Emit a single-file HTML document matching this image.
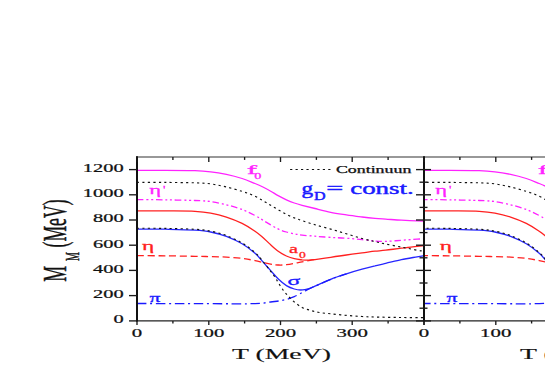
<!DOCTYPE html>
<html><head><meta charset="utf-8"><title>fig</title>
<style>
html,body{margin:0;padding:0;background:#fff;}
body{width:545px;height:382px;overflow:hidden;}
svg{display:block;font-family:"Liberation Serif",serif;}
</style></head><body>
<svg width="545" height="382" viewBox="0 0 545 382">
<rect width="545" height="382" fill="#fff"/>
<defs>
<g id="curves" fill="none">
<path d="M137.0,170.4C141.7,170.4 155.3,170.4 165.0,170.4C174.7,170.4 187.4,170.5 195.0,170.7C202.6,170.9 205.5,171.2 210.7,171.8C215.9,172.4 221.2,173.3 226.4,174.4C231.6,175.5 237.3,177.0 242.1,178.5C246.9,180.0 251.5,182.1 255.0,183.5C258.5,184.9 260.3,185.7 262.9,187.0C265.5,188.3 268.1,189.7 270.7,191.2C273.3,192.7 276.0,194.5 278.6,195.9C281.2,197.3 283.8,198.6 286.4,199.8C289.0,201.0 291.7,202.1 294.3,203.0C296.9,203.9 298.7,204.4 302.1,205.3C305.6,206.2 310.2,207.3 315.0,208.5C319.8,209.7 325.5,211.2 330.7,212.3C335.9,213.4 341.2,214.1 346.4,214.9C351.6,215.7 357.3,216.4 362.1,217.0C366.9,217.6 371.1,218.0 375.0,218.3C378.9,218.7 381.3,218.8 385.7,219.1C390.1,219.4 396.2,219.9 401.4,220.2C406.6,220.5 413.3,220.8 417.1,220.9C420.9,221.0 423.0,221.0 424.2,221.0" stroke="#ff22ff" stroke-width="1.3"/>
<path d="M137.0,199.6C141.7,199.6 155.3,199.7 165.0,199.8C174.7,200.0 187.4,200.2 195.0,200.5C202.6,200.8 205.5,200.9 210.7,201.6C215.9,202.3 221.2,203.5 226.4,204.8C231.6,206.1 237.3,207.7 242.1,209.5C246.9,211.3 251.5,213.7 255.0,215.5C258.5,217.3 260.3,218.6 262.9,220.2C265.5,221.8 268.1,223.4 270.7,224.9C273.3,226.4 276.0,228.0 278.6,229.2C281.2,230.4 283.8,231.2 286.4,232.0C289.0,232.8 291.7,233.4 294.3,233.9C296.9,234.4 298.7,234.7 302.1,235.1C305.6,235.5 310.2,235.8 315.0,236.2C319.8,236.6 325.5,237.1 330.7,237.4C335.9,237.7 341.2,237.8 346.4,238.2C351.6,238.6 357.3,239.2 362.1,239.7C366.9,240.2 371.1,240.7 375.0,241.0C378.9,241.3 381.3,241.5 385.7,241.4C390.1,241.3 396.2,240.7 401.4,240.3C406.6,239.9 413.3,239.4 417.1,239.2C420.9,238.9 423.0,238.9 424.2,238.8" stroke="#ff22ff" stroke-width="1.3" stroke-dasharray="6.5 3 2 2.7 2 2.7"/>
<path d="M137.0,210.8C141.7,210.8 155.3,210.8 165.0,210.9C174.7,211.0 187.4,210.9 195.0,211.3C202.6,211.7 205.5,212.1 210.7,213.1C215.9,214.1 221.2,215.4 226.4,217.1C231.6,218.8 237.3,221.1 242.1,223.4C246.9,225.8 251.5,228.8 255.0,231.2C258.5,233.5 260.3,235.2 262.9,237.5C265.5,239.8 268.1,242.5 270.7,244.8C273.3,247.2 276.0,249.7 278.6,251.6C281.2,253.5 283.8,254.8 286.4,256.0C289.0,257.2 291.7,258.1 294.3,258.7C296.9,259.3 299.8,259.6 302.1,259.9C304.5,260.1 306.2,260.2 308.4,260.2C310.5,260.1 311.3,260.1 315.0,259.6C318.7,259.1 325.5,258.1 330.7,257.3C335.9,256.5 341.2,255.7 346.4,255.0C351.6,254.3 357.3,253.5 362.1,252.9C366.9,252.3 371.1,251.6 375.0,251.2C378.9,250.8 381.3,250.7 385.7,250.2C390.1,249.7 396.2,248.8 401.4,248.2C406.6,247.5 413.3,246.8 417.1,246.3C420.9,245.9 423.0,245.6 424.2,245.5" stroke="#ff2020" stroke-width="1.3"/>
<path d="M137.0,255.7C141.7,255.7 155.3,255.7 165.0,255.8C174.7,255.9 187.4,256.2 195.0,256.3C202.6,256.4 205.5,256.5 210.7,256.6C215.9,256.7 221.2,256.8 226.4,257.1C231.6,257.4 237.3,257.8 242.1,258.4C246.9,259.0 250.2,259.6 255.0,260.6C259.8,261.6 266.8,263.5 270.7,264.2C274.6,264.9 276.0,264.9 278.6,265.0C281.2,265.1 283.8,265.0 286.4,264.7C289.0,264.4 291.7,263.9 294.3,263.4C296.9,262.9 299.5,262.3 302.1,261.8C304.7,261.3 307.7,260.7 310.0,260.3C312.3,259.9 315.0,259.6 316.0,259.5" stroke="#ff2020" stroke-width="1.3" stroke-dasharray="7 3.7"/>
<path d="M137.0,229.1C141.7,229.1 155.3,229.0 165.0,229.2C174.7,229.4 187.4,229.6 195.0,230.1C202.6,230.6 205.5,230.9 210.7,232.0C215.9,233.1 221.2,234.4 226.4,236.4C231.6,238.4 237.3,241.0 242.1,243.8C246.9,246.6 251.5,250.2 255.0,253.2C258.5,256.2 260.3,259.0 262.9,261.9C265.5,264.8 268.1,267.7 270.7,270.6C273.3,273.5 276.0,276.8 278.6,279.3C281.2,281.8 283.8,284.0 286.4,285.6C289.0,287.2 291.9,288.3 294.3,289.0C296.7,289.7 298.4,290.0 300.5,290.0C302.6,290.0 305.1,289.5 306.8,289.2C308.6,288.9 309.6,288.5 311.0,288.0C312.4,287.5 311.7,287.6 315.0,286.2C318.3,284.8 325.5,281.4 330.7,279.3C335.9,277.2 341.2,275.5 346.4,273.8C351.6,272.1 357.3,270.4 362.1,269.1C366.9,267.8 371.1,266.8 375.0,265.9C378.9,264.9 381.3,264.4 385.7,263.4C390.1,262.4 396.2,260.8 401.4,259.7C406.6,258.6 413.3,257.5 417.1,256.8C420.9,256.1 423.0,255.8 424.2,255.6" stroke="#2626ff" stroke-width="1.3"/>
<path d="M137.0,303.5C146.7,303.5 177.8,303.6 195.0,303.6C212.2,303.7 230.0,303.8 240.0,303.8C250.0,303.8 251.2,303.7 255.0,303.6C258.8,303.5 260.3,303.4 262.9,303.1C265.5,302.8 268.1,302.4 270.7,302.0C273.3,301.6 276.0,301.4 278.6,301.0C281.2,300.6 283.8,300.1 286.4,299.4C289.0,298.7 291.7,297.7 294.3,296.6C296.9,295.5 299.8,293.8 302.1,292.6C304.5,291.4 306.2,290.3 308.4,289.2C310.5,288.1 311.3,287.8 315.0,286.2C318.7,284.6 325.5,281.4 330.7,279.3C335.9,277.2 343.8,274.7 346.4,273.8" stroke="#1a1aff" stroke-width="1.3" stroke-dasharray="9.5 3.7 2 3.7"/>
<path d="M137.0,182.3C141.7,182.3 155.3,182.3 165.0,182.4C174.7,182.5 187.4,182.6 195.0,182.8C202.6,183.1 205.5,183.2 210.7,183.9C215.9,184.6 221.2,185.8 226.4,187.0C231.6,188.2 237.7,190.0 242.1,191.4C246.5,192.8 249.6,193.8 253.1,195.3C256.6,196.8 260.0,198.9 262.9,200.6C265.8,202.3 268.1,203.7 270.7,205.3C273.3,206.9 276.0,208.5 278.6,210.0C281.2,211.5 283.8,213.0 286.4,214.3C289.0,215.6 291.7,216.9 294.3,217.9C296.9,218.9 298.7,219.4 302.1,220.6C305.6,221.8 310.2,223.4 315.0,224.8C319.8,226.2 325.5,227.6 330.7,229.1C335.9,230.6 341.2,232.2 346.4,233.8C351.6,235.4 357.3,237.2 362.1,238.5C366.9,239.8 371.1,240.7 375.0,241.6C378.9,242.5 381.3,243.1 385.7,244.0C390.1,244.9 396.2,246.1 401.4,247.1C406.6,248.1 413.3,249.5 417.1,250.2C420.9,250.9 423.0,251.0 424.2,251.2" stroke="#111" stroke-width="1.15" stroke-dasharray="2.2 3.25"/>
<path d="M137.0,228.3C141.7,228.3 155.3,228.2 165.0,228.4C174.7,228.6 187.4,228.8 195.0,229.3C202.6,229.8 205.5,230.1 210.7,231.2C215.9,232.2 221.2,233.6 226.4,235.6C231.6,237.6 237.3,240.2 242.1,243.0C246.9,245.8 251.5,249.4 255.0,252.5C258.5,255.6 260.3,258.2 262.9,261.4C265.5,264.5 268.6,268.7 270.7,271.4C272.8,274.1 274.1,275.7 275.4,277.7C276.7,279.7 277.3,281.1 278.6,283.2C279.9,285.3 281.7,288.2 283.3,290.3C284.9,292.4 286.2,293.9 288.0,295.8C289.8,297.8 291.9,300.1 294.3,302.0C296.7,303.9 299.5,306.1 302.1,307.5C304.7,308.9 307.3,309.4 310.0,310.2C312.7,311.0 314.7,311.7 318.1,312.3C321.6,312.9 326.0,313.3 330.7,313.8C335.4,314.3 341.2,314.9 346.4,315.4C351.6,315.8 357.3,316.2 362.1,316.5C366.9,316.8 368.7,316.8 375.0,317.0C381.3,317.2 391.8,317.4 400.0,317.5C408.2,317.6 420.2,317.7 424.2,317.7" stroke="#111" stroke-width="1.15" stroke-dasharray="2.2 3.25"/>
</g>
<clipPath id="c1"><rect x="137" y="150" width="287" height="180"/></clipPath>
<clipPath id="c2"><rect x="139.8" y="150" width="200" height="180"/></clipPath>
</defs>
<use href="#curves" clip-path="url(#c1)"/>
<use href="#curves" x="284.2" clip-path="url(#c2)"/>
<path d="M290.1,169.5H331.5" stroke="#111" stroke-width="1.15" stroke-dasharray="2.2 3.25" fill="none"/>
<g stroke="#111" fill="none">
<path d="M136,157H545" stroke-width="1.15" stroke="#333"/>
<path d="M136,320.85H545" stroke-width="1.35" stroke="#222"/>
<path d="M137,156.3V321.5M424,156.3V321.5" stroke-width="2"/>
</g>
<g stroke="#1a1a1a" stroke-width="1.35">
<line x1="129.0" x2="137.0" y1="320.9" y2="320.9"/>
<line x1="424.0" x2="431.0" y1="320.9" y2="320.9"/>
<line x1="424.0" x2="427.5" y1="308.2" y2="308.2"/>
<line x1="129.0" x2="137.0" y1="295.6" y2="295.6"/>
<line x1="424.0" x2="431.0" y1="295.6" y2="295.6"/>
<line x1="424.0" x2="427.5" y1="283.0" y2="283.0"/>
<line x1="129.0" x2="137.0" y1="270.4" y2="270.4"/>
<line x1="424.0" x2="431.0" y1="270.4" y2="270.4"/>
<line x1="424.0" x2="427.5" y1="257.8" y2="257.8"/>
<line x1="129.0" x2="137.0" y1="245.2" y2="245.2"/>
<line x1="424.0" x2="431.0" y1="245.2" y2="245.2"/>
<line x1="424.0" x2="427.5" y1="232.6" y2="232.6"/>
<line x1="129.0" x2="137.0" y1="220.0" y2="220.0"/>
<line x1="424.0" x2="431.0" y1="220.0" y2="220.0"/>
<line x1="424.0" x2="427.5" y1="207.4" y2="207.4"/>
<line x1="129.0" x2="137.0" y1="194.8" y2="194.8"/>
<line x1="424.0" x2="431.0" y1="194.8" y2="194.8"/>
<line x1="424.0" x2="427.5" y1="182.2" y2="182.2"/>
<line x1="129.0" x2="137.0" y1="169.6" y2="169.6"/>
<line x1="424.0" x2="431.0" y1="169.6" y2="169.6"/>
<line x1="137.0" x2="137.0" y1="157.0" y2="162.0"/>
<line x1="137.0" x2="137.0" y1="320.9" y2="325.1"/>
<line x1="172.9" x2="172.9" y1="157.0" y2="159.9"/>
<line x1="172.9" x2="172.9" y1="320.9" y2="323.5"/>
<line x1="208.8" x2="208.8" y1="157.0" y2="162.0"/>
<line x1="208.8" x2="208.8" y1="320.9" y2="325.1"/>
<line x1="244.6" x2="244.6" y1="157.0" y2="159.9"/>
<line x1="244.6" x2="244.6" y1="320.9" y2="323.5"/>
<line x1="280.5" x2="280.5" y1="157.0" y2="162.0"/>
<line x1="280.5" x2="280.5" y1="320.9" y2="325.1"/>
<line x1="316.4" x2="316.4" y1="157.0" y2="159.9"/>
<line x1="316.4" x2="316.4" y1="320.9" y2="323.5"/>
<line x1="352.2" x2="352.2" y1="157.0" y2="162.0"/>
<line x1="352.2" x2="352.2" y1="320.9" y2="325.1"/>
<line x1="388.1" x2="388.1" y1="157.0" y2="159.9"/>
<line x1="388.1" x2="388.1" y1="320.9" y2="323.5"/>
<line x1="424.0" x2="424.0" y1="157.0" y2="162.0"/>
<line x1="424.0" x2="424.0" y1="320.9" y2="325.1"/>
<line x1="416.0" x2="424.0" y1="320.9" y2="320.9"/>
<line x1="419.5" x2="424.0" y1="308.2" y2="308.2"/>
<line x1="416.0" x2="424.0" y1="295.6" y2="295.6"/>
<line x1="419.5" x2="424.0" y1="283.0" y2="283.0"/>
<line x1="416.0" x2="424.0" y1="270.4" y2="270.4"/>
<line x1="419.5" x2="424.0" y1="257.8" y2="257.8"/>
<line x1="416.0" x2="424.0" y1="245.2" y2="245.2"/>
<line x1="419.5" x2="424.0" y1="232.6" y2="232.6"/>
<line x1="416.0" x2="424.0" y1="220.0" y2="220.0"/>
<line x1="419.5" x2="424.0" y1="207.4" y2="207.4"/>
<line x1="416.0" x2="424.0" y1="194.8" y2="194.8"/>
<line x1="419.5" x2="424.0" y1="182.2" y2="182.2"/>
<line x1="416.0" x2="424.0" y1="169.6" y2="169.6"/>
<line x1="424.0" x2="424.0" y1="157.0" y2="162.0"/>
<line x1="424.0" x2="424.0" y1="320.9" y2="325.1"/>
<line x1="459.9" x2="459.9" y1="157.0" y2="159.9"/>
<line x1="459.9" x2="459.9" y1="320.9" y2="323.5"/>
<line x1="495.8" x2="495.8" y1="157.0" y2="162.0"/>
<line x1="495.8" x2="495.8" y1="320.9" y2="325.1"/>
<line x1="531.6" x2="531.6" y1="157.0" y2="159.9"/>
<line x1="531.6" x2="531.6" y1="320.9" y2="323.5"/>
<line x1="567.5" x2="567.5" y1="157.0" y2="162.0"/>
<line x1="567.5" x2="567.5" y1="320.9" y2="325.1"/>
<line x1="603.4" x2="603.4" y1="157.0" y2="159.9"/>
<line x1="603.4" x2="603.4" y1="320.9" y2="323.5"/>
<line x1="639.2" x2="639.2" y1="157.0" y2="162.0"/>
<line x1="639.2" x2="639.2" y1="320.9" y2="325.1"/>
<line x1="675.1" x2="675.1" y1="157.0" y2="159.9"/>
<line x1="675.1" x2="675.1" y1="320.9" y2="323.5"/>
<line x1="711.0" x2="711.0" y1="157.0" y2="162.0"/>
<line x1="711.0" x2="711.0" y1="320.9" y2="325.1"/>
</g>
<g stroke="#111" stroke-width="0.22">
<text x="113.4" y="323.2" font-size="11.5" textLength="10.2" lengthAdjust="spacingAndGlyphs" text-anchor="start" fill="#111" font-weight="normal" >0</text>
<text x="93.0" y="298.0" font-size="11.5" textLength="30.6" lengthAdjust="spacingAndGlyphs" text-anchor="start" fill="#111" font-weight="normal" >200</text>
<text x="93.0" y="272.8" font-size="11.5" textLength="30.6" lengthAdjust="spacingAndGlyphs" text-anchor="start" fill="#111" font-weight="normal" >400</text>
<text x="93.0" y="247.6" font-size="11.5" textLength="30.6" lengthAdjust="spacingAndGlyphs" text-anchor="start" fill="#111" font-weight="normal" >600</text>
<text x="93.0" y="222.4" font-size="11.5" textLength="30.6" lengthAdjust="spacingAndGlyphs" text-anchor="start" fill="#111" font-weight="normal" >800</text>
<text x="82.8" y="197.2" font-size="11.5" textLength="40.8" lengthAdjust="spacingAndGlyphs" text-anchor="start" fill="#111" font-weight="normal" >1000</text>
<text x="82.8" y="172.0" font-size="11.5" textLength="40.8" lengthAdjust="spacingAndGlyphs" text-anchor="start" fill="#111" font-weight="normal" >1200</text>
<text x="131.8" y="336.5" font-size="11.5" textLength="10.4" lengthAdjust="spacingAndGlyphs" text-anchor="start" fill="#111" font-weight="normal" >0</text>
<text x="193.2" y="336.5" font-size="11.5" textLength="31.2" lengthAdjust="spacingAndGlyphs" text-anchor="start" fill="#111" font-weight="normal" >100</text>
<text x="264.9" y="336.5" font-size="11.5" textLength="31.2" lengthAdjust="spacingAndGlyphs" text-anchor="start" fill="#111" font-weight="normal" >200</text>
<text x="336.6" y="336.5" font-size="11.5" textLength="31.2" lengthAdjust="spacingAndGlyphs" text-anchor="start" fill="#111" font-weight="normal" >300</text>
<text x="418.8" y="336.5" font-size="11.5" textLength="10.4" lengthAdjust="spacingAndGlyphs" text-anchor="start" fill="#111" font-weight="normal" >0</text>
<text x="480.1" y="336.5" font-size="11.5" textLength="31.2" lengthAdjust="spacingAndGlyphs" text-anchor="start" fill="#111" font-weight="normal" >100</text>
<text x="551.9" y="336.5" font-size="11.5" textLength="31.2" lengthAdjust="spacingAndGlyphs" text-anchor="start" fill="#111" font-weight="normal" >200</text>
<text x="623.6" y="336.5" font-size="11.5" textLength="31.2" lengthAdjust="spacingAndGlyphs" text-anchor="start" fill="#111" font-weight="normal" >300</text>
<text x="232.0" y="359.3" font-size="15.1" textLength="99.0" lengthAdjust="spacingAndGlyphs" text-anchor="start" fill="#111" font-weight="normal" stroke-width="0.15">T (MeV)</text>
<text x="520.0" y="359.3" font-size="15.1" textLength="99.0" lengthAdjust="spacingAndGlyphs" text-anchor="start" fill="#111" font-weight="normal" stroke-width="0.15">T (MeV)</text>
</g>
<g>
<text x="246.7" y="173.7" font-size="13.5" textLength="10.3" lengthAdjust="spacingAndGlyphs" text-anchor="start" fill="#ff22ff" font-weight="normal"  stroke="#ff22ff" stroke-width="0.3">f</text>
<text x="254.3" y="179.2" font-size="8.9" textLength="7.1" lengthAdjust="spacingAndGlyphs" text-anchor="start" fill="#ff22ff" font-weight="normal"  stroke="#ff22ff" stroke-width="0.3">0</text>
<text x="149.2" y="193.6" font-size="13.5" textLength="11.8" lengthAdjust="spacingAndGlyphs" text-anchor="start" fill="#ff22ff" font-weight="normal"  stroke="#ff22ff" stroke-width="0.3">η</text>
<text x="163.1" y="192.6" font-size="9.5" textLength="2.4" lengthAdjust="spacingAndGlyphs" text-anchor="start" fill="#ff22ff" font-weight="normal"  stroke="#ff22ff" stroke-width="0.3">'</text>
<text x="142.1" y="249.8" font-size="13.5" textLength="12.2" lengthAdjust="spacingAndGlyphs" text-anchor="start" fill="#ff2020" font-weight="normal"  stroke="#ff2020" stroke-width="0.3">η</text>
<text x="149.5" y="302.0" font-size="13.5" textLength="11.0" lengthAdjust="spacingAndGlyphs" text-anchor="start" fill="#1a1aff" font-weight="normal"  stroke="#1a1aff" stroke-width="0.3">π</text>
<text x="289.0" y="252.6" font-size="13.5" textLength="9.0" lengthAdjust="spacingAndGlyphs" text-anchor="start" fill="#ff2020" font-weight="normal"  stroke="#ff2020" stroke-width="0.3">a</text>
<text x="299.0" y="257.7" font-size="8.9" textLength="6.8" lengthAdjust="spacingAndGlyphs" text-anchor="start" fill="#ff2020" font-weight="normal"  stroke="#ff2020" stroke-width="0.3">0</text>
<text x="287.6" y="284.5" font-size="13.5" textLength="12.8" lengthAdjust="spacingAndGlyphs" text-anchor="start" fill="#1a1aff" font-weight="normal"  stroke="#1a1aff" stroke-width="0.3">σ</text>
<text x="335.9" y="172.8" font-size="9.7" textLength="75.5" lengthAdjust="spacingAndGlyphs" text-anchor="start" fill="#111" font-weight="normal" stroke="#111" stroke-width="0.25">Continuun</text>
<text x="301.5" y="194.2" font-size="17.2" textLength="11.6" lengthAdjust="spacingAndGlyphs" text-anchor="start" fill="#1a1aff" font-weight="normal" stroke="#1a1aff" stroke-width="0.45">g</text>
<text x="314.1" y="200.4" font-size="11.6" textLength="11.6" lengthAdjust="spacingAndGlyphs" text-anchor="start" fill="#1a1aff" font-weight="normal" stroke="#1a1aff" stroke-width="0.45">D</text>
<text x="326.2" y="194.2" font-size="17.2" textLength="17.0" lengthAdjust="spacingAndGlyphs" text-anchor="start" fill="#1a1aff" font-weight="normal" stroke="#1a1aff" stroke-width="0.45">=</text>
<text x="350.2" y="194.2" font-size="17.2" textLength="63.6" lengthAdjust="spacingAndGlyphs" text-anchor="start" fill="#1a1aff" font-weight="normal" stroke="#1a1aff" stroke-width="0.45">const.</text>
<text x="537.7" y="173.7" font-size="13.5" textLength="10.3" lengthAdjust="spacingAndGlyphs" text-anchor="start" fill="#ff22ff" font-weight="normal"  stroke="#ff22ff" stroke-width="0.3">f</text>
<text x="545.3" y="179.2" font-size="8.9" textLength="7.1" lengthAdjust="spacingAndGlyphs" text-anchor="start" fill="#ff22ff" font-weight="normal"  stroke="#ff22ff" stroke-width="0.3">0</text>
<text x="435.2" y="193.6" font-size="13.5" textLength="11.8" lengthAdjust="spacingAndGlyphs" text-anchor="start" fill="#ff22ff" font-weight="normal"  stroke="#ff22ff" stroke-width="0.3">η</text>
<text x="449.1" y="192.6" font-size="9.5" textLength="2.4" lengthAdjust="spacingAndGlyphs" text-anchor="start" fill="#ff22ff" font-weight="normal"  stroke="#ff22ff" stroke-width="0.3">'</text>
<text x="439.8" y="249.8" font-size="13.5" textLength="12.2" lengthAdjust="spacingAndGlyphs" text-anchor="start" fill="#ff2020" font-weight="normal"  stroke="#ff2020" stroke-width="0.3">η</text>
<text x="446.4" y="302.0" font-size="13.5" textLength="11.0" lengthAdjust="spacingAndGlyphs" text-anchor="start" fill="#1a1aff" font-weight="normal"  stroke="#1a1aff" stroke-width="0.3">π</text>
</g>
<g fill="#111" stroke="#111" stroke-width="0.25">
<text transform="translate(65.9,281.8) scale(1.88,1) rotate(-90)" font-size="17.8">M</text>
<text transform="translate(79.3,260.9) scale(1.88,1) rotate(-90)" font-size="10">M</text>
<text transform="translate(65.9,247.4) scale(1.88,1) rotate(-90)" font-size="17.6">(MeV)</text>
</g>
</svg>
</body></html>
